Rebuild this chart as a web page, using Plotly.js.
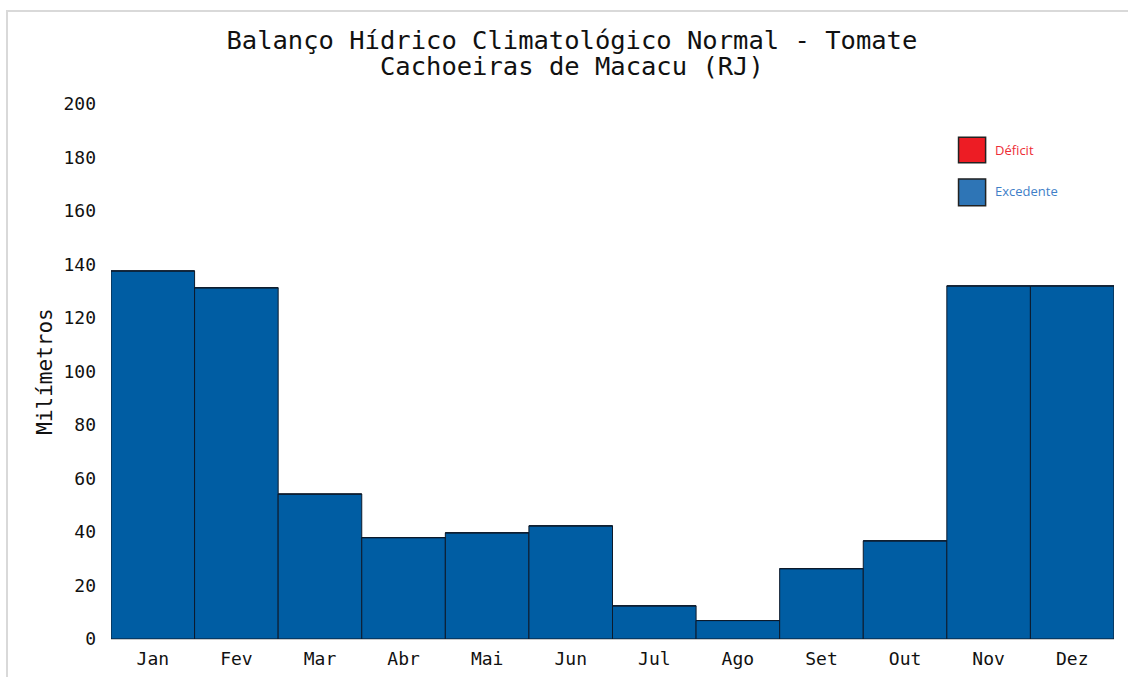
<!DOCTYPE html>
<html>
<head>
<meta charset="utf-8">
<script src="https://cdn.plot.ly/plotly-3.0.1.min.js"></script>
<style>
html,body{margin:0;padding:0;background:#fff;}
#wrap{position:relative;width:1128px;height:677px;overflow:hidden;}
#chart{width:1128px;height:677px;}
#frame{position:absolute;left:6px;top:10px;width:1300px;height:800px;border-top:2px solid #d9d9d9;border-left:2px solid #d9d9d9;pointer-events:none;}
</style>
</head>
<body>
<div id="wrap"><div id="chart"></div><div id="frame"></div></div>
<script>
const months = ["Jan","Fev","Mar","Abr","Mai","Jun","Jul","Ago","Set","Out","Nov","Dez"];
const excedente = [137.6, 131.3, 54.2, 37.9, 39.7, 42.3, 12.4, 6.9, 26.3, 36.7, 132.0, 132.0];
const deficit = [0, 0, 0, 0, 0, 0, 0, 0, 0, 0, 0, 0];
const legendNames = ["Déficit", "Excedente"];
const yTicks = [0, 20, 40, 60, 80, 100, 120, 140, 160, 180, 200];
const titleLines = ["Balanço Hídrico Climatológico Normal - Tomate", "Cachoeiras de Macacu (RJ)"];

const mono = "DejaVu Sans Mono, Liberation Mono, monospace";
const legendFont = "Open Sans, Liberation Sans, sans-serif";

const traces = [
  {type:"bar", x:months, y:excedente, name:legendNames[1], showlegend:false,
   marker:{color:"#005DA3", line:{color:"#0d1a2b", width:1}}, hoverinfo:"x+y"},
  {type:"bar", x:months, y:deficit, name:legendNames[0], showlegend:false,
   marker:{color:"#ED1C24", line:{color:"#0d1a2b", width:1}}, hoverinfo:"x+y"}
];

const layout = {
  width:1128, height:677,
  margin:{l:111, r:14, t:104, b:38},
  paper_bgcolor:"rgba(0,0,0,0)", plot_bgcolor:"rgba(0,0,0,0)",
  barmode:"relative", bargap:0,
  title:{text:titleLines[0],
         font:{family:mono, size:25.5, color:"#111"}, x:0.507, xanchor:"center", xref:"container",
         y:1 - 40/677, yanchor:"middle", yref:"container"},
  xaxis:{type:"category", showgrid:false, zeroline:false, showline:true, linecolor:"#c8c8c8", linewidth:1,
         ticks:"", tickfont:{family:mono, size:18, color:"#111"}, ticklabelstandoff:3},
  yaxis:{range:[0,200], tickvals:yTicks, showgrid:false, zeroline:false, showline:false,
         ticks:"", tickfont:{family:mono, size:18, color:"#111"}, ticklabelstandoff:14,
         title:{text:"Milímetros", font:{family:mono, size:21, color:"#111"}, standoff:5}},
  shapes:[
    {type:"rect", xref:"paper", yref:"paper", x0:0.845, x1:0.872, y0:0.890, y1:0.938,
     fillcolor:"#ED1C24", line:{color:"#222", width:1.5}},
    {type:"rect", xref:"paper", yref:"paper", x0:0.845, x1:0.872, y0:0.810, y1:0.860,
     fillcolor:"#2E75B6", line:{color:"#222", width:1.5}}
  ],
  annotations:[
    {text:titleLines[1], xref:"paper", yref:"paper", x:(572-111)/1003, y:1 + (104-66)/535,
     xanchor:"center", yanchor:"middle", showarrow:false,
     font:{family:mono, size:25.5, color:"#111"}},
    {text:legendNames[0], xref:"paper", yref:"paper", x:0.879, y:0.914, xanchor:"left", yanchor:"middle",
     showarrow:false, font:{family:legendFont, size:13, color:"#EE2D36"}},
    {text:legendNames[1], xref:"paper", yref:"paper", x:0.879, y:0.837, xanchor:"left", yanchor:"middle",
     showarrow:false, font:{family:legendFont, size:13, color:"#3F7FC8"}}
  ]
};

Plotly.newPlot("chart", traces, layout, {displayModeBar:false, staticPlot:true});
</script>
</body>
</html>
